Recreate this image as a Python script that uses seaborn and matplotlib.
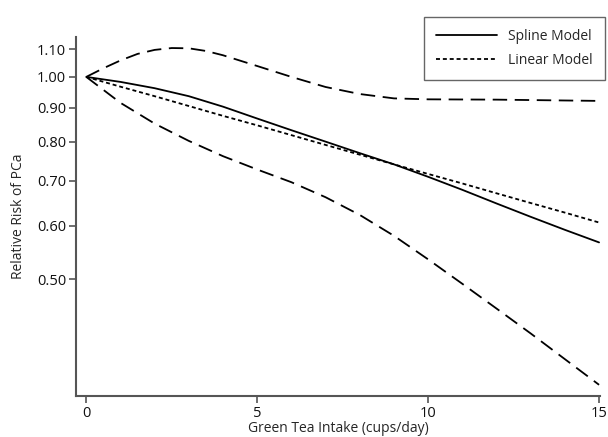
import numpy as np
import pandas as pd
import seaborn as sns
import matplotlib.pyplot as plt
from matplotlib.ticker import FixedLocator, FixedFormatter, NullLocator

# values (relative risk vs cups/day)
dose = [0, 1, 2, 3, 4, 5, 6, 7, 8, 9, 10, 11, 12, 13, 14, 15]
spline_rr = [1.0, 0.983, 0.962, 0.936, 0.903, 0.867, 0.833, 0.801, 0.77,
             0.741, 0.71, 0.679, 0.648, 0.619, 0.592, 0.567]
linear_rr = [1.0, 0.967, 0.936, 0.905, 0.875, 0.847, 0.819, 0.792, 0.766,
             0.741, 0.717, 0.694, 0.671, 0.649, 0.628, 0.607]
lower_ci = [1.0, 0.915, 0.852, 0.803, 0.762, 0.728, 0.697, 0.662, 0.623,
            0.58, 0.535, 0.492, 0.452, 0.415, 0.38, 0.348]

upper_dose = [0, 0.5, 1, 1.5, 2, 2.5, 3, 3.5, 4, 5, 6, 7, 8, 9, 10, 12, 15]
upper_ci = [1.0, 1.03, 1.058, 1.082, 1.097, 1.104, 1.103, 1.093, 1.077,
            1.038, 1.0, 0.966, 0.943, 0.929, 0.926, 0.925, 0.921]

ytick_vals = [0.50, 0.60, 0.70, 0.80, 0.90, 1.00, 1.10]
ytick_labels = ["0.50", "0.60", "0.70", "0.80", "0.90", "1.00", "1.10"]
xtick_vals = [0, 5, 10, 15]

sns.set_style("ticks")
plt.rcParams['font.family'] = ['Open Sans', 'DejaVu Sans']

fig = plt.figure(figsize=(6.08, 4.37), dpi=100)
ax = fig.add_axes([0.125, 0.094, 0.862, 0.821])

main = pd.DataFrame({"dose": dose, "spline": spline_rr,
                     "linear": linear_rr, "lower": lower_ci})
upper = pd.DataFrame({"dose": upper_dose, "upper": upper_ci})

sns.lineplot(data=main, x="dose", y="spline", ax=ax, color="black",
             lw=1.3, label="Spline Model")
sns.lineplot(data=main, x="dose", y="linear", ax=ax, color="black",
             lw=1.3, dashes=False, label="Linear Model")
ax.lines[-1].set_dashes([2.2, 1.6])
sns.lineplot(data=main, x="dose", y="lower", ax=ax, color="black",
             lw=1.3, label="_lower")
ax.lines[-1].set_dashes([8, 4.2])
sns.lineplot(data=upper, x="dose", y="upper", ax=ax, color="black",
             lw=1.3, label="_upper")
ax.lines[-1].set_dashes([8, 4.2])

ax.set_yscale("log")
ax.set_ylim(0.335, 1.146)
ax.set_xlim(-0.3, 15.03)
ax.yaxis.set_major_locator(FixedLocator(ytick_vals))
ax.yaxis.set_major_formatter(FixedFormatter(ytick_labels))
ax.yaxis.set_minor_locator(NullLocator())
ax.set_xticks(xtick_vals)

ax.set_xlabel("Green Tea Intake (cups/day)", fontsize=10, labelpad=0)
ax.set_ylabel("Relative Risk of PCa", fontsize=10, labelpad=8)
ax.tick_params(labelsize=10.5, length=5, width=1.2, color="#555555",
               labelcolor="#111111", pad=2)

sns.despine(ax=ax)
for s in ["left", "bottom"]:
    ax.spines[s].set_color("#555555")
    ax.spines[s].set_linewidth(1.5)

leg = ax.legend(loc="upper right", bbox_to_anchor=(1.022, 1.075), fontsize=10,
                handlelength=4.4, fancybox=False, framealpha=1,
                edgecolor="#666666", borderpad=0.85, labelspacing=0.65)
leg.get_frame().set_linewidth(1.0)

fig.savefig("out.png", dpi=100)
